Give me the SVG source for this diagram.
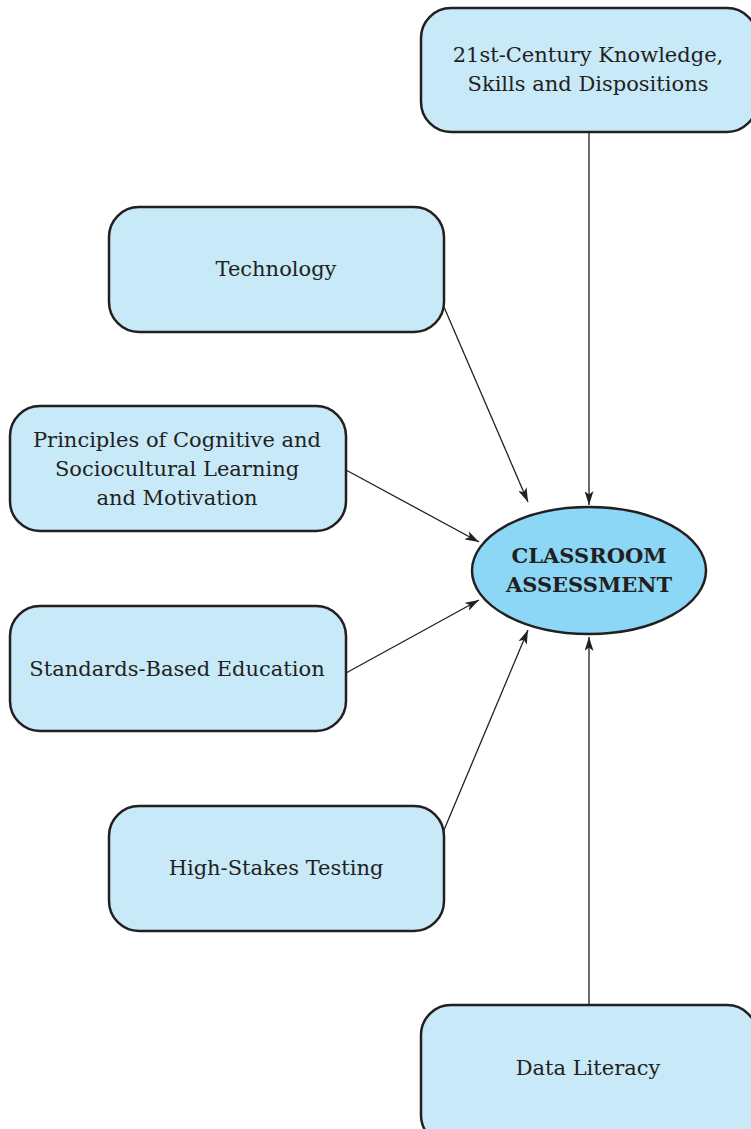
<svg xmlns="http://www.w3.org/2000/svg" width="751" height="1129" viewBox="0 0 751 1129">
<defs>
<style>
.box{fill:#c8e9f8;stroke:#231f20;stroke-width:2.5}
.ell{fill:#8bd7f5;stroke:#231f20;stroke-width:2.5}
.t{font-family:"DejaVu Serif","Liberation Serif",serif;font-size:21px;fill:#231f20;text-anchor:middle}
.b{font-family:"DejaVu Serif","Liberation Serif",serif;font-size:21px;font-weight:bold;fill:#231f20;text-anchor:middle}
.c{stroke:#231f20;stroke-width:1.3;fill:none;marker-end:url(#ah)}
</style>
<marker id="ah" viewBox="0 0 14 9" refX="14" refY="4.5" markerWidth="14" markerHeight="9" markerUnits="userSpaceOnUse" orient="auto">
<path d="M0,0 L14,4.5 L0,9 L3.5,4.5 Z" fill="#231f20"/>
</marker>
</defs>
<g id="connectors">
<line class="c" x1="589" y1="132" x2="589" y2="505"/>
<line class="c" x1="444" y1="307" x2="528" y2="502"/>
<line class="c" x1="346" y1="470" x2="479" y2="542"/>
<line class="c" x1="346" y1="673" x2="479" y2="600"/>
<line class="c" x1="444" y1="830" x2="528" y2="630"/>
<line class="c" x1="589" y1="1005" x2="589" y2="637"/>
</g>
<g id="n21st">
<rect class="box" x="421" y="8" width="336" height="124" rx="30"/>
<text class="t" x="588" y="62">21st-Century Knowledge,</text>
<text class="t" x="588" y="91">Skills and Dispositions</text>
</g>
<g id="technology">
<rect class="box" x="109" y="207" width="335" height="125" rx="30"/>
<text class="t" x="276" y="276">Technology</text>
</g>
<g id="principles">
<rect class="box" x="10" y="406" width="336" height="125" rx="30"/>
<text class="t" x="177" y="447">Principles of Cognitive and</text>
<text class="t" x="177" y="476">Sociocultural Learning</text>
<text class="t" x="177" y="505">and Motivation</text>
</g>
<g id="standards">
<rect class="box" x="10" y="606" width="336" height="125" rx="30"/>
<text class="t" x="177" y="676">Standards-Based Education</text>
</g>
<g id="highstakes">
<rect class="box" x="109" y="806" width="335" height="125" rx="30"/>
<text class="t" x="276" y="875">High-Stakes Testing</text>
</g>
<g id="dataliteracy">
<rect class="box" x="421" y="1005" width="336" height="140" rx="30"/>
<text class="t" x="588" y="1075">Data Literacy</text>
</g>
<g id="classroom">
<ellipse class="ell" cx="589" cy="570.5" rx="117" ry="63.5"/>
<text class="b" x="589" y="563">CLASSROOM</text>
<text class="b" x="589" y="592">ASSESSMENT</text>
</g>
</svg>
